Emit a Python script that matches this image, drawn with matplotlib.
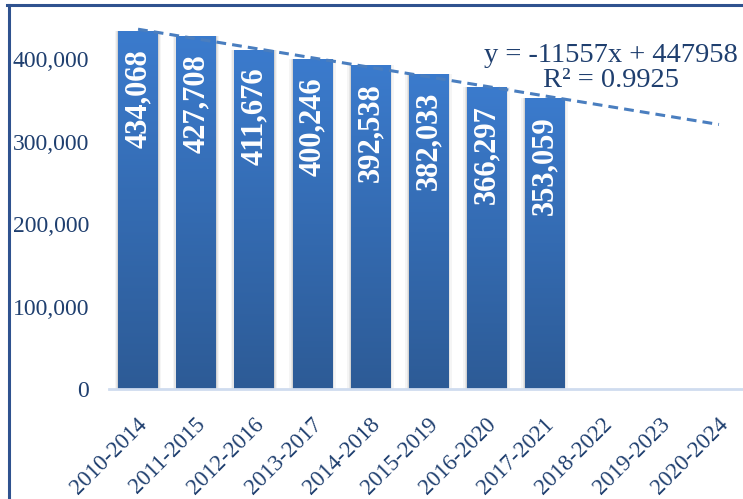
import matplotlib
matplotlib.use("Agg")
import matplotlib.pyplot as plt
import matplotlib.transforms as mtransforms
import numpy as np
from matplotlib.colors import LinearSegmentedColormap
from matplotlib.patches import Rectangle
from matplotlib.lines import Line2D
from matplotlib.ticker import FuncFormatter

categories = ["2010-2014", "2011-2015", "2012-2016", "2013-2017", "2014-2018",
              "2015-2019", "2016-2020", "2017-2021", "2018-2022", "2019-2023", "2020-2024"]
values = [434068, 427708, 411676, 400246, 392538, 382033, 366297, 353059]
trend_slope = -11557
trend_intercept = 447958
r_squared = 0.9925

plt.rcParams['font.family'] = ['Liberation Serif', 'DejaVu Serif']
text_color = '#1f3f6f'

fig = plt.figure(figsize=(7.43, 4.99), dpi=100)
ax = fig.add_axes([109/743, 110/499, 639/743, 371/499])

cmap = LinearSegmentedColormap.from_list('g', ['#2d5b96', '#3b7bcd'])
grad = np.linspace(0, 1, 256).reshape(-1, 1)
bw = 0.68
for i, v in enumerate(values):
    # shadow
    for k, a in [(0.06, 0.04), (0.035, 0.06), (0.015, 0.08)]:
        ax.add_patch(Rectangle((i - bw/2 - k, 0), bw + 2*k, v, facecolor='#000000',
                               alpha=a, edgecolor='none', zorder=1))
    rect = Rectangle((i - bw/2, 0), bw, v, facecolor='none', edgecolor='none', zorder=2)
    ax.add_patch(rect)
    im = ax.imshow(grad, extent=(i - bw/2, i + bw/2, 0, v), origin='lower', cmap=cmap,
                   aspect='auto', zorder=2, interpolation='bicubic')
    im.set_clip_path(rect)
    ax.annotate(f"{v:,}", xy=(i, v), xytext=(0, -13), textcoords='offset points',
                rotation=90, ha='center', va='top', color='white', fontsize=22,
                fontweight='bold', zorder=5)

# trendline
tx = np.arange(1, len(categories) + 1)
ty = trend_slope * tx + trend_intercept
ax.plot(tx - 1, ty, linestyle=(0, (3.2, 2.0)), color='#4a7ebf', linewidth=2.2, zorder=4)

ax.text(611/743, 1 - 68/499, f"y = {trend_slope}x + {trend_intercept}\nR² = {r_squared}",
        transform=fig.transFigure, ha='center', va='center', fontsize=20.5,
        color=text_color, linespacing=1.0, zorder=6)

ax.set_xlim(-0.5, len(categories) - 0.5)
ax.set_ylim(0, 450000)
ax.set_yticks([0, 100000, 200000, 300000, 400000])
ax.yaxis.set_major_formatter(FuncFormatter(lambda v, p: f"{int(v):,}"))
ax.set_xticks(range(len(categories)))
ax.set_xticklabels(categories, rotation=45, ha='right', va='center',
                   rotation_mode='anchor')
ax.tick_params(axis='x', length=0, pad=23.5, labelsize=16.5, labelcolor=text_color)
ax.tick_params(axis='y', length=0, pad=14.4, labelsize=17, labelcolor=text_color)
offset = mtransforms.ScaledTranslation(4.5/72, 0, fig.dpi_scale_trans)
for lab in ax.get_xticklabels():
    lab.set_transform(lab.get_transform() + offset)
for s in ['top', 'right', 'left']:
    ax.spines[s].set_visible(False)
ax.spines['bottom'].set_color('#cfdcef')
ax.spines['bottom'].set_linewidth(2)

# frame
fig.add_artist(Line2D([8.5/743, 8.5/743], [0, 1 - 4.5/499], transform=fig.transFigure,
                      color='#2f528f', linewidth=2.2))
fig.add_artist(Line2D([7.5/743, 1], [1 - 4.5/499, 1 - 4.5/499], transform=fig.transFigure,
                      color='#2f528f', linewidth=2.2))

fig.savefig("out.png", dpi=100)
